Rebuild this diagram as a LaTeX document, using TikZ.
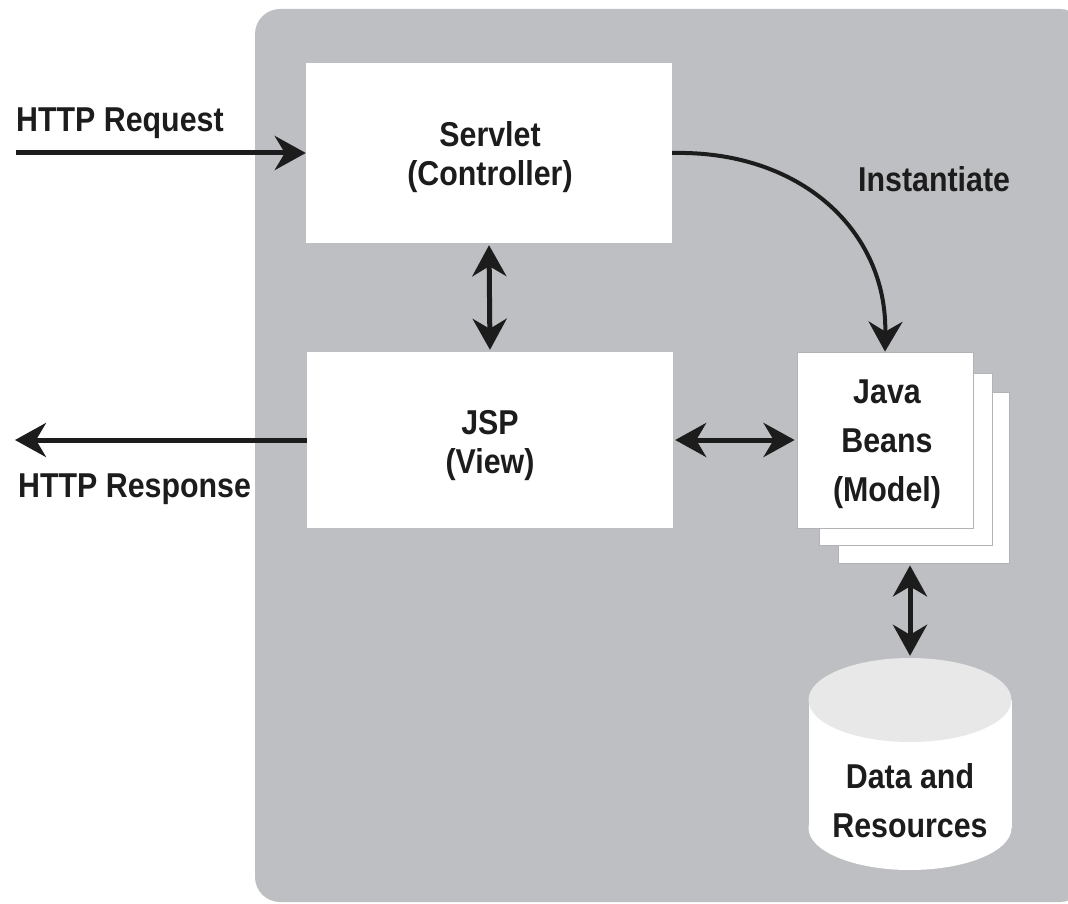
\documentclass[tikz,border=0pt]{standalone}
\usepackage{fontspec}
\setmainfont{Liberation Sans}[FakeStretch=0.88]
\usetikzlibrary{arrows.meta}
\definecolor{panel}{RGB}{190,191,195}
\definecolor{ink}{RGB}{28,28,28}
\definecolor{dbtop}{RGB}{232,232,233}
\definecolor{edgegray}{RGB}{178,179,183}
\begin{document}
\begin{tikzpicture}[x=1pt,y=-1pt,
  box/.style={fill=white, draw=none, inner sep=0pt},
  beanbox/.style={fill=white, draw=edgegray, line width=0.8pt, inner sep=0pt, minimum width=175pt, minimum height=175pt},
  txt/.style={font=\fontsize{34.5}{39}\selectfont\bfseries, text=ink, anchor=base, inner sep=0pt},
  ltxt/.style={txt, anchor=base west},
  arr/.style={line width=5pt, draw=ink, -{Stealth[length=31pt,width=34pt,inset=10pt]}},
  darr/.style={line width=5pt, draw=ink, {Stealth[length=31pt,width=34pt,inset=10pt]}-{Stealth[length=31pt,width=34pt,inset=10pt]}}]
\useasboundingbox (0,0) rectangle (1068,904);
% panel
\fill[panel, rounded corners=25pt] (255,9) rectangle (1085,902);
% boxes
\node[box, minimum width=366pt, minimum height=180pt] (servlet) at (489,153) {};
\node[box, minimum width=366pt, minimum height=176pt] (jsp) at (490,440) {};
\node[beanbox, minimum width=171pt, minimum height=171pt] (beans3) at (923.5,477.5) {};
\node[beanbox, minimum width=173pt, minimum height=172pt] (beans2) at (905.5,459) {};
\node[beanbox, minimum width=176pt, minimum height=176pt] (beans1) at (885,440) {};
% cylinder
\fill[white] (808.5,700) rectangle (1011.5,828);
\fill[white] (910,828) ellipse[x radius=101.5, y radius=42];
\fill[dbtop] (910,700) ellipse[x radius=101.5, y radius=42];
\node[inner sep=0pt, minimum width=203pt, minimum height=212pt] (db) at (910,764) {};
% texts
\node[txt] (t1) at (490,147) {Servlet};
\node[txt] (t2) at (490,186) {(Controller)};
\node[txt] (t3) at (490,434) {JSP};
\node[txt] (t4) at (490,473) {(View)};
\node[txt] (t5) at (887,403) {Java};
\node[txt] (t6) at (887,452) {Beans};
\node[txt] (t7) at (887,501) {(Model)};
\node[txt] (t8) at (910,788) {Data and};
\node[txt] (t9) at (910,837) {Resources};
\node[ltxt] (req) at (16,132) {HTTP Request};
\node[ltxt] (resp) at (18,497) {HTTP Response};
\node[ltxt] (inst) at (858,192) {Instantiate};
% connectors
\coordinate (reqin) at (16,153);
\coordinate (respout) at (15,440);
\draw[arr] (reqin) -- (servlet.west);
\draw[arr] (jsp.west) -- (respout);
\draw[darr, shorten <=2pt, shorten >=2pt] (servlet.south) -- (jsp.north);
\draw[darr, shorten <=2pt, shorten >=2pt] (jsp.east) -- (beans1.west);
\draw[darr, shorten <=2pt, shorten >=2pt] (db.north |- beans3.south) -- (db.north);
\draw[line width=4pt, draw=ink, -{Stealth[length=30pt,width=34pt,inset=10pt]}] (servlet.east) .. controls (800,150) and (887,230) .. (beans1.north);
\end{tikzpicture}
\end{document}
